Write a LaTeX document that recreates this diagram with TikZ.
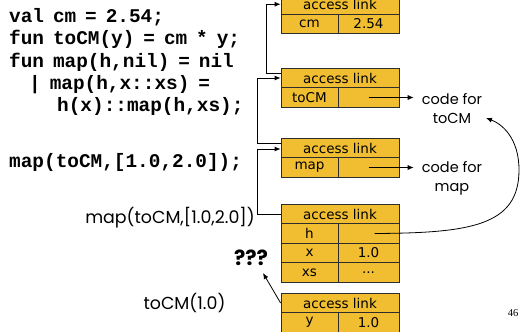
\documentclass[tikz,border=0pt]{standalone}
\usepackage{fontspec}
\usetikzlibrary{arrows.meta}
\newfontfamily\boxfont{DejaVu Sans}
\newfontfamily\comicfont{Poppins}
\newfontfamily\codefont{Liberation Mono}
\newfontfamily\numfont{Liberation Serif}
\definecolor{gold}{RGB}{240,190,48}
\definecolor{boxline}{RGB}{45,45,45}
\newcommand\codesetup{\codefont\bfseries\fontsize{19.4}{22}\selectfont\spaceskip=0.46em\relax\xspaceskip=0.46em\relax}
\tikzset{
  cellbase/.style={draw=boxline, line width=0.8pt, fill=gold, minimum height=19.5pt, inner sep=0pt,
    font=\boxfont\fontsize{13.5}{15}\selectfont, text=black},
  hdr/.style={cellbase, minimum width=118pt},
  lcell/.style={cellbase, minimum width=57pt},
  rcell/.style={cellbase, minimum width=61pt},
  codeline/.style={anchor=base west, inner sep=0pt, font=\codesetup},
  comic/.style={inner sep=0pt, font=\comicfont\fontsize{14.5}{19}\selectfont, align=center},
  calltext/.style={comic, font=\comicfont\fontsize{17.4}{19}\selectfont},
  link/.style={draw=black, line width=0.8pt, -{Latex[length=6pt,width=5pt]}}
}
\begin{document}
\begin{tikzpicture}[x=1pt,y=-1pt]
\useasboundingbox[fill=white] (0,0) rectangle (520,332);
\clip (0,0) rectangle (520,332);

% code
\node[codeline] (c1) at (9,23) {val cm = 2.54;};
\node[codeline] (c2) at (9,45) {fun toCM(y) = cm * y;};
\node[codeline] (c3) at (9,67) {fun map(h,nil) = nil};
\node[codeline] (c4) at (29,89) {| map(h,x::xs) =};
\node[codeline] (c5) at (57,111) {h(x)::map(h,xs);};
\node[codeline] (c6) at (9,167) {map(toCM,[1.0,2.0]);};

% box 1
\node[hdr] (b1h) at (340,4.25) {access link};
\node[lcell] (b1l) at (309.5,23.75) {cm};
\node[rcell] (b1r) at (368.5,23.75) {2.54};
% box 2
\node[hdr] (b2h) at (340,78) {access link};
\node[lcell] (b2l) at (309.5,97.5) {toCM};
\node[rcell] (b2r) at (368.5,97.5) {};
% box 3
\node[hdr] (b3h) at (340,148) {access link};
\node[lcell] (b3l) at (309.5,167.5) {map};
\node[rcell] (b3r) at (368.5,167.5) {};
% box 4
\node[hdr] (b4h) at (340,214) {access link};
\node[lcell] (b4l1) at (309.5,233.5) {h};
\node[rcell] (b4r1) at (368.5,233.5) {};
\node[lcell] (b4l2) at (309.5,253) {x};
\node[rcell] (b4r2) at (368.5,253) {1.0};
\node[lcell] (b4l3) at (309.5,272.5) {xs};
\node[rcell] (b4r3) at (368.5,272.5) {...};
% box 5
\node[hdr] (b5h) at (340,303) {access link};
\node[lcell] (b5l) at (309.5,322.5) {y};
\node[rcell] (b5r) at (368.5,322.5) {1.0};

% labels
\node[comic, inner sep=8pt] (code1) at (452,108.5) {code for\\toCM};
\node[comic, inner sep=8pt] (code2) at (452,178) {code for\\map};
\node[calltext] (call1) at (170,218) {map(toCM,[1.0,2.0])};
\node[comic, font=\comicfont\bfseries\fontsize{21}{24}\selectfont] (q) at (251,258) {???};
\node[calltext] (call2) at (184.5,303) {toCM(1.0)};
\node[inner sep=0pt, font=\numfont\fontsize{10.5}{12}\selectfont] (pg) at (513,313) {46};

% access links
\draw[link] ([yshift=5pt]b2h.west) -- ++(-14,0) |- (b1h.west);
\draw[link] ([yshift=5pt]b3h.west) -- ++(-23,0) |- (b2h.west);
\draw[link] (b4h.west) -- ++(-23,0) |- ([yshift=-1pt]b3h.west);
\draw[link] (b5h.west) -- ([xshift=12pt,yshift=-15pt]q.center);

% code pointers
\draw[link] (b2r.center) -- (b2r.center -| code1.west);
\draw[link] (b3r.center) -- (b3r.center -| code2.west);
\draw[link] ([xshift=6pt]b4r1.center) .. controls (470,233) and (519,226) .. (519,170)
  .. controls (519,138) and (502,124) .. (486,118);
\end{tikzpicture}
\end{document}
